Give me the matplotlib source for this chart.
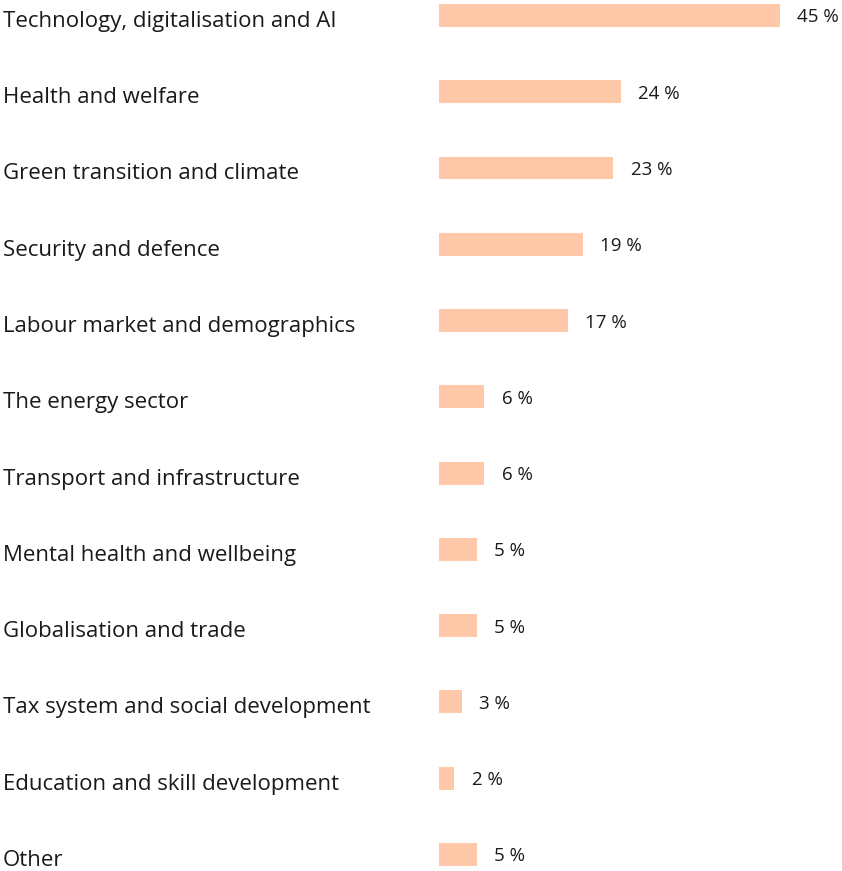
import matplotlib.pyplot as plt
from matplotlib.transforms import blended_transform_factory

categories = [
    "Technology, digitalisation and AI",
    "Health and welfare",
    "Green transition and climate",
    "Security and defence",
    "Labour market and demographics",
    "The energy sector",
    "Transport and infrastructure",
    "Mental health and wellbeing",
    "Globalisation and trade",
    "Tax system and social development",
    "Education and skill development",
    "Other",
]
shares = [45, 24, 23, 19, 17, 6, 6, 5, 5, 3, 2, 5]

plt.rcParams['font.family'] = ['Open Sans', 'DejaVu Sans']

W, H = 842, 871
fig = plt.figure(figsize=(W / 100, H / 100), dpi=100)
ax = fig.add_axes([439 / W, 0, 341 / W, 1])

pos = list(range(len(categories)))
ax.barh(pos, shares, height=0.3, color='#ffc8a8')
ax.set_xlim(0, 45)
ax.set_ylim(11.217, -0.203)
ax.axis('off')

# category names sit at the left edge of the figure, values just past each bar
label_tr = blended_transform_factory(fig.transFigure, ax.transData)
for i, (name, v) in enumerate(zip(categories, shares)):
    ax.annotate(name, (3 / W, i), xycoords=label_tr, xytext=(0, -2.5),
                textcoords='offset points', ha='left', va='center_baseline',
                fontsize=16, color='#1a1a1a', annotation_clip=False)
    ax.annotate(f"{v} %", (v, i), xytext=(12.5, 0), textcoords='offset points',
                ha='left', va='center_baseline', fontsize=13.5, color='#1a1a1a',
                annotation_clip=False)

fig.savefig('out.png', dpi=100)
